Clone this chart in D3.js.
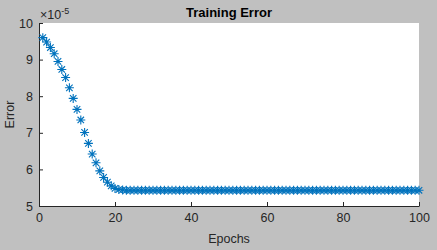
<!DOCTYPE html>
<html>
<head>
<meta charset="utf-8">
<script src="https://cdn.jsdelivr.net/npm/d3@7"></script>
<style>
  body { margin: 0; background: #c0c0c0; }
  svg { display: block; font-family: "Liberation Sans", Arial, sans-serif; }
</style>
</head>
<body>
<div id="chart"></div>
<script>
// Training error per epoch, in units of 1e-5 (as shown on the axis)
const errors = [
  9.60, 9.48, 9.33, 9.16, 8.95, 8.73, 8.51, 8.23, 7.94, 7.64,
  7.35, 7.01, 6.71, 6.42, 6.18, 5.96, 5.78, 5.65, 5.55, 5.48,
  5.45, 5.44, 5.43, 5.43, 5.43, 5.43, 5.43, 5.43, 5.43, 5.43,
  5.43, 5.43, 5.43, 5.43, 5.43, 5.43, 5.43, 5.43, 5.43, 5.43,
  5.43, 5.43, 5.43, 5.43, 5.43, 5.43, 5.43, 5.43, 5.43, 5.43,
  5.43, 5.43, 5.43, 5.43, 5.43, 5.43, 5.43, 5.43, 5.43, 5.43,
  5.43, 5.43, 5.43, 5.43, 5.43, 5.43, 5.43, 5.43, 5.43, 5.43,
  5.43, 5.43, 5.43, 5.43, 5.43, 5.43, 5.43, 5.43, 5.43, 5.43,
  5.43, 5.43, 5.43, 5.43, 5.43, 5.43, 5.43, 5.43, 5.43, 5.43,
  5.43, 5.43, 5.43, 5.43, 5.43, 5.43, 5.43, 5.43, 5.43, 5.43
];
const xTicks = [0, 20, 40, 60, 80, 100];
const yTicks = [5, 6, 7, 8, 9, 10];

const width = 437, height = 250;
const margin = { top: 23, left: 39, right: 18, bottom: 44 };
const axisColor = "#262626";
const markerColor = "#0072bd";

const svg = d3.select("#chart").append("svg")
  .attr("width", width)
  .attr("height", height);

svg.append("rect")
  .attr("width", width).attr("height", height)
  .attr("fill", "#c0c0c0");

const x = d3.scaleLinear().domain([0, 100]).range([margin.left, width - margin.right]);
const y = d3.scaleLinear().domain([5, 10]).range([height - margin.bottom, margin.top]);

// white plot area
svg.append("rect")
  .attr("x", x(0)).attr("y", y(10))
  .attr("width", x(100) - x(0))
  .attr("height", y(5) - y(10))
  .attr("fill", "#fff");

// axes, ticks pointing inward (box off)
const xAxis = svg.append("g")
  .attr("transform", `translate(0,${y(5)})`)
  .call(d3.axisBottom(x).tickValues(xTicks).tickFormat(d3.format("d"))
    .tickSizeInner(-4).tickSizeOuter(0).tickPadding(7));

const yAxis = svg.append("g")
  .attr("transform", `translate(${x(0)},0)`)
  .call(d3.axisLeft(y).tickValues(yTicks).tickFormat(d3.format("d"))
    .tickSizeInner(-4).tickSizeOuter(0).tickPadding(6));

[xAxis, yAxis].forEach(g => {
  g.select(".domain").attr("stroke", axisColor).attr("stroke-width", 1);
  g.selectAll(".tick line").attr("stroke", axisColor);
  g.selectAll(".tick text")
    .attr("fill", axisColor)
    .style("font-size", "12.5px")
    .style("font-family", "Liberation Sans, Arial, sans-serif");
});

// asterisk markers
const r = 4.5, d = r * 0.72;
function asterisk(cx, cy) {
  return `M${cx - r},${cy}L${cx + r},${cy}` +
    `M${cx},${cy - r}L${cx},${cy + r}` +
    `M${cx - d},${cy - d}L${cx + d},${cy + d}` +
    `M${cx - d},${cy + d}L${cx + d},${cy - d}`;
}

svg.append("g")
  .selectAll("path")
  .data(errors)
  .enter().append("path")
  .attr("d", (v, i) => asterisk(x(i + 1), y(v)))
  .attr("fill", "none")
  .attr("stroke", markerColor)
  .attr("stroke-width", 1.1);

// title
svg.append("text")
  .attr("x", (x(0) + x(100)) / 2)
  .attr("y", 17)
  .attr("text-anchor", "middle")
  .attr("fill", "#000")
  .style("font-weight", "bold")
  .style("font-size", "13px")
  .text("Training Error");

// axis labels
svg.append("text")
  .attr("x", (x(0) + x(100)) / 2)
  .attr("y", 243)
  .attr("text-anchor", "middle")
  .attr("fill", axisColor)
  .style("font-size", "12.5px")
  .text("Epochs");

svg.append("text")
  .attr("transform", `translate(14,${(y(5) + y(10)) / 2}) rotate(-90)`)
  .attr("text-anchor", "middle")
  .attr("fill", axisColor)
  .style("font-size", "12.5px")
  .text("Error");

// exponent label
const expo = svg.append("text")
  .attr("x", x(0) + 1)
  .attr("y", 19)
  .attr("fill", axisColor)
  .style("font-size", "12.5px");
expo.append("tspan").text("\u00d710");
expo.append("tspan")
  .attr("dy", -5)
  .style("font-size", "9px")
  .text("-5");
</script>
</body>
</html>
